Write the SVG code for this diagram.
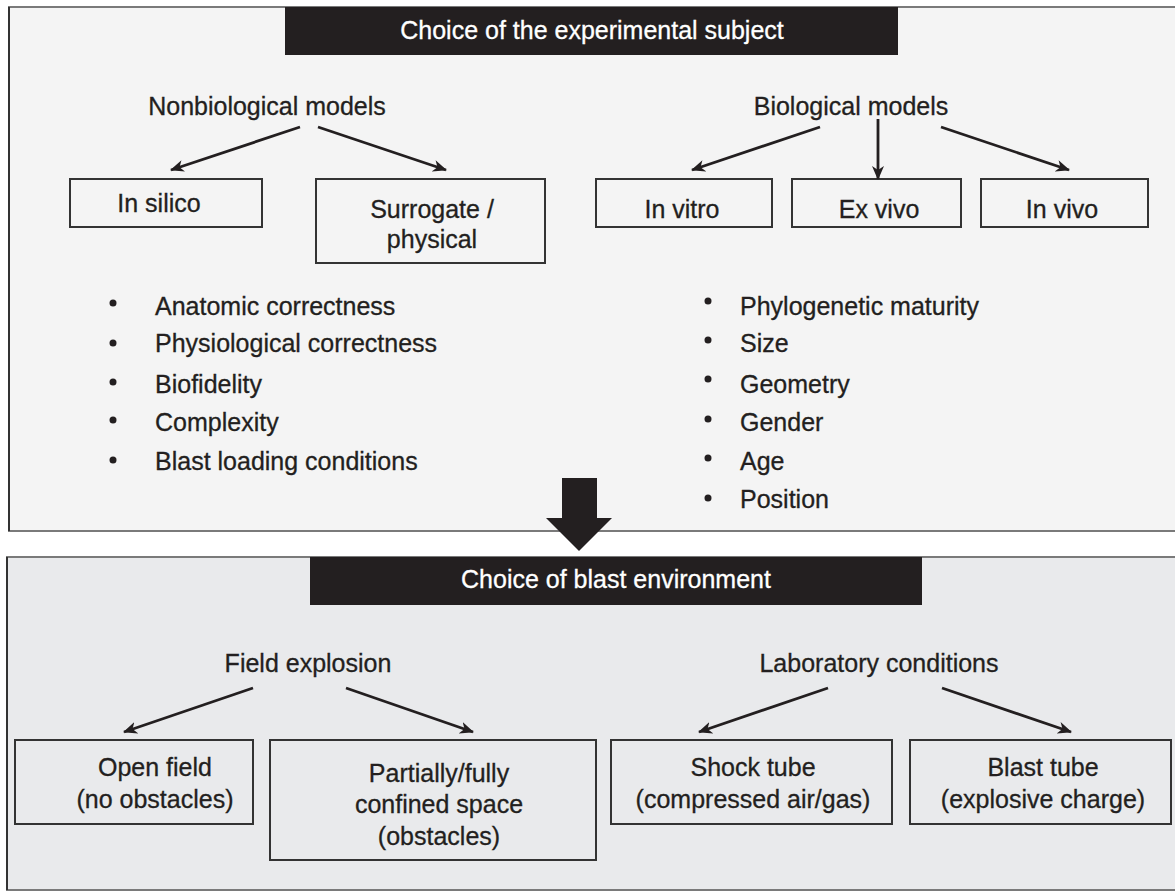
<svg xmlns="http://www.w3.org/2000/svg" width="1175" height="891" viewBox="0 0 1175 891">
<defs>
<style>
text{font-family:"Liberation Sans",Arial,sans-serif;font-size:25px;fill:#231f20;stroke:#231f20;stroke-width:0.3}
.t{fill:#ffffff;stroke:#ffffff;text-anchor:middle}
.c{text-anchor:middle}
.box{fill:none;stroke:#333333;stroke-width:2}
.bar{fill:#231f20}
.con{stroke:#231f20;stroke-width:2.8;fill:none;marker-end:url(#ah)}
.dot{fill:#231f20}
.edge{stroke:#333333;stroke-width:2;fill:none}
</style>
<marker id="ah" viewBox="0 0 14 12" refX="13" refY="6" markerWidth="14" markerHeight="12" markerUnits="userSpaceOnUse" orient="auto">
<path d="M0,0 L14,6 L0,12 L4,6 z" fill="#231f20"/>
</marker>
</defs>
<rect width="1175" height="891" fill="#ffffff"/>
<g id="panel-subject">
<rect x="9" y="7" width="1180" height="524" fill="#f4f4f4" stroke="#7a7a7a" stroke-width="2"/>
<line class="edge" x1="9" y1="7" x2="9" y2="531"/>
</g>
<g id="panel-environment">
<rect x="7" y="557" width="1180" height="333" fill="#e9eaec" stroke="#7a7a7a" stroke-width="2"/>
<line class="edge" x1="7" y1="557" x2="7" y2="890"/>
</g>
<g id="title-subject">
<rect class="bar" x="285" y="7" width="613" height="48"/>
<text class="t" x="592" y="39">Choice of the experimental subject</text>
</g>
<g id="nonbio">
<text class="c" x="267" y="115">Nonbiological models</text>
</g>
<g id="bio">
<text class="c" x="851" y="115">Biological models</text>
</g>
<g id="in-silico">
<rect class="box" x="70" y="179" width="192" height="48"/>
<text class="c" x="159" y="212">In silico</text>
</g>
<g id="surrogate">
<rect class="box" x="316" y="179" width="229" height="84"/>
<text class="c" x="432" y="218">Surrogate /</text>
<text class="c" x="432" y="248">physical</text>
</g>
<g id="in-vitro">
<rect class="box" x="596" y="179" width="176" height="48"/>
<text class="c" x="682" y="218">In vitro</text>
</g>
<g id="ex-vivo">
<rect class="box" x="792" y="179" width="169" height="48"/>
<text class="c" x="879" y="218">Ex vivo</text>
</g>
<g id="in-vivo">
<rect class="box" x="981" y="179" width="167" height="48"/>
<text class="c" x="1062" y="218">In vivo</text>
</g>
<g id="nonbio-criteria">
<circle class="dot" cx="113" cy="303" r="3.5"/>
<circle class="dot" cx="113" cy="343" r="3.5"/>
<circle class="dot" cx="113" cy="382" r="3.5"/>
<circle class="dot" cx="113" cy="420" r="3.5"/>
<circle class="dot" cx="113" cy="460" r="3.5"/>
<text x="155" y="315">Anatomic correctness</text>
<text x="155" y="352">Physiological correctness</text>
<text x="155" y="393">Biofidelity</text>
<text x="155" y="431">Complexity</text>
<text x="155" y="470">Blast loading conditions</text>
</g>
<g id="bio-criteria">
<circle class="dot" cx="708" cy="301" r="3.5"/>
<circle class="dot" cx="708" cy="340" r="3.5"/>
<circle class="dot" cx="708" cy="379" r="3.5"/>
<circle class="dot" cx="708" cy="419" r="3.5"/>
<circle class="dot" cx="708" cy="458" r="3.5"/>
<circle class="dot" cx="708" cy="498" r="3.5"/>
<text x="740" y="315">Phylogenetic maturity</text>
<text x="740" y="352">Size</text>
<text x="740" y="393">Geometry</text>
<text x="740" y="431">Gender</text>
<text x="740" y="470">Age</text>
<text x="740" y="508">Position</text>
</g>
<g id="big-arrow">
<path d="M562,478 L597,478 L597,518 L612,518 L579,551 L546,518 L562,518 Z" fill="#231f20"/>
</g>
<g id="title-environment">
<rect class="bar" x="310" y="557" width="612" height="48"/>
<text class="t" x="616" y="588">Choice of blast environment</text>
</g>
<g id="field">
<text class="c" x="308" y="672">Field explosion</text>
</g>
<g id="lab">
<text class="c" x="879" y="672">Laboratory conditions</text>
</g>
<g id="open-field">
<rect class="box" x="15" y="740" width="238" height="84"/>
<text class="c" x="155" y="776">Open field</text>
<text class="c" x="155" y="808">(no obstacles)</text>
</g>
<g id="confined">
<rect class="box" x="270" y="740" width="326" height="120"/>
<text class="c" x="439" y="782">Partially/fully</text>
<text class="c" x="439" y="813">confined space</text>
<text class="c" x="439" y="845">(obstacles)</text>
</g>
<g id="shock-tube">
<rect class="box" x="611" y="740" width="281" height="84"/>
<text class="c" x="753" y="776">Shock tube</text>
<text class="c" x="753" y="808">(compressed air/gas)</text>
</g>
<g id="blast-tube">
<rect class="box" x="910" y="740" width="261" height="84"/>
<text class="c" x="1043" y="776">Blast tube</text>
<text class="c" x="1043" y="808">(explosive charge)</text>
</g>
<g id="connectors">
<line class="con" x1="300" y1="127" x2="171" y2="170"/>
<line class="con" x1="318" y1="127" x2="446" y2="170"/>
<line class="con" x1="820" y1="127" x2="692" y2="170"/>
<line class="con" x1="878" y1="119" x2="878" y2="179"/>
<line class="con" x1="941" y1="127" x2="1069" y2="170"/>
<line class="con" x1="253" y1="688" x2="124" y2="732"/>
<line class="con" x1="346" y1="688" x2="473" y2="732"/>
<line class="con" x1="828" y1="688" x2="699" y2="732"/>
<line class="con" x1="942" y1="688" x2="1071" y2="732"/>
</g>
</svg>
